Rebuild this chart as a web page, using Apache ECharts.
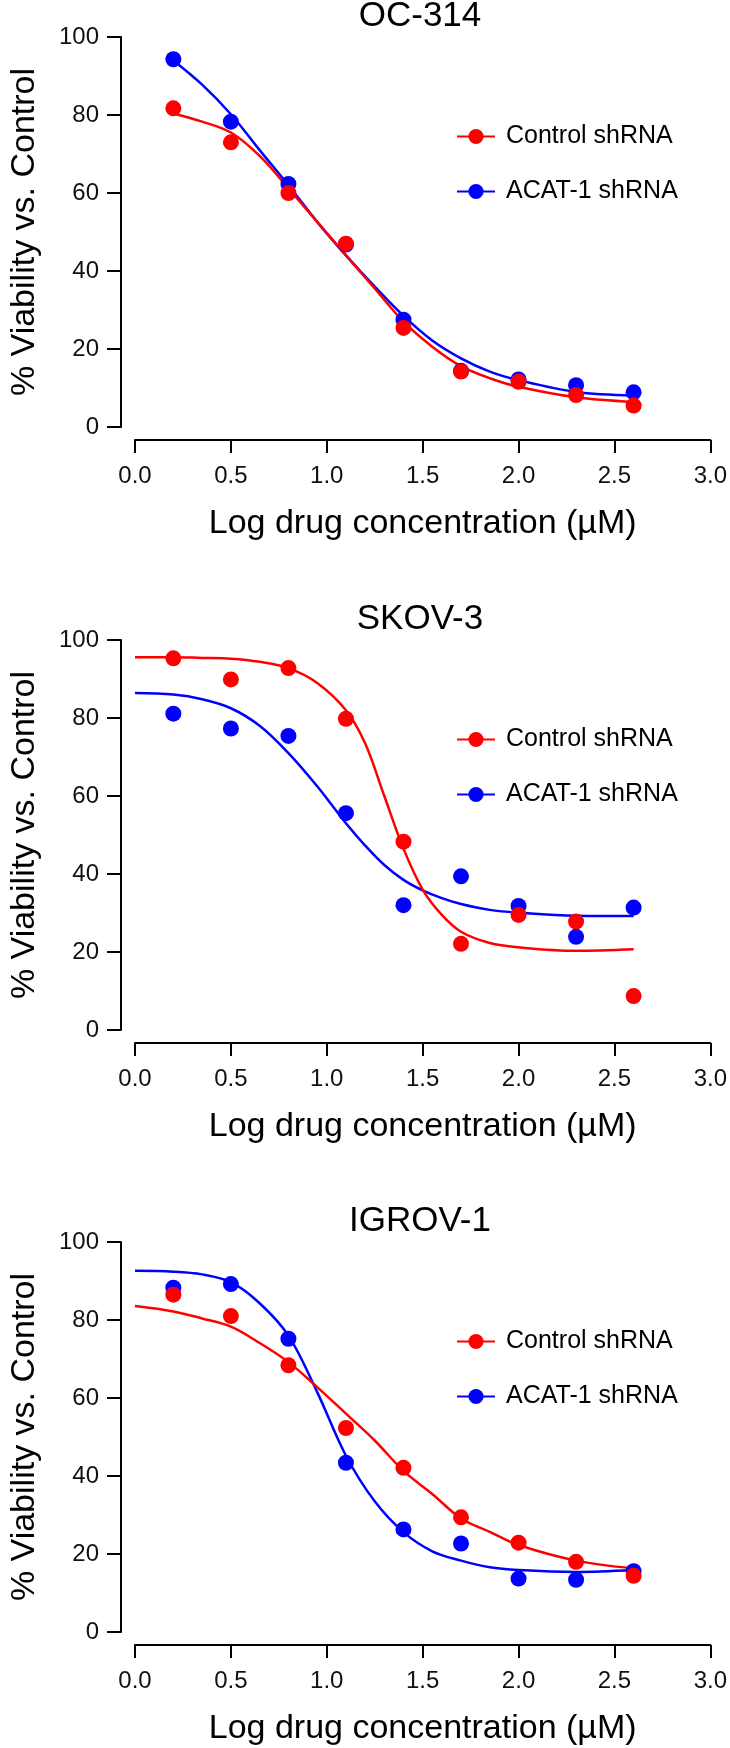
<!DOCTYPE html>
<html>
<head>
<meta charset="utf-8">
<script src="https://cdn.jsdelivr.net/npm/echarts@6/dist/echarts.min.js"></script>
<style>
html,body{margin:0;padding:0;background:#fff;}
#chart{width:730px;height:1748px;}
</style>
</head>
<body>
<div id="chart"></div>
<script>
// ---------- data ----------
const xTicks = [0.0, 0.5, 1.0, 1.5, 2.0, 2.5, 3.0];
const yTicks = [0, 20, 40, 60, 80, 100];
const panelTitles = ['OC-314', 'SKOV-3', 'IGROV-1'];
const seriesNames = ['Control shRNA', 'ACAT-1 shRNA'];
const xAxisTitle = 'Log drug concentration (µM)';
const yAxisTitle = '% Viability vs. Control';

// measured points (log dose)
const doseX = [0.2, 0.5, 0.8, 1.1, 1.4, 1.7, 2.0, 2.3, 2.6];

const oc314ControlPts = [81.7, 73.0, 60.0, 47.0, 25.4, 14.2, 11.6, 8.2, 5.5];
const oc314AcatPts    = [94.3, 78.3, 62.3, 46.8, 27.5, 14.4, 12.2, 10.7, 8.9];
const skov3ControlPts = [95.3, 89.9, 92.8, 79.8, 48.3, 22.1, 29.5, 27.8, 8.7];
const skov3AcatPts    = [81.1, 77.3, 75.4, 55.6, 32.0, 39.4, 31.8, 23.9, 31.4];
const igrov1ControlPts = [86.5, 81.0, 68.4, 52.3, 42.1, 29.4, 22.9, 18.0, 14.4];
const igrov1AcatPts    = [88.3, 89.2, 75.2, 43.4, 26.3, 22.7, 13.7, 13.4, 15.6];

// fitted curves
const oc314FitX       = [0.2, 0.35, 0.5, 0.65, 0.8, 0.95, 1.1, 1.25, 1.4, 1.55, 1.7, 1.85, 2.0, 2.3, 2.6];
const oc314ControlFit = [80.4, 78.3, 75.5, 69.5, 61.2, 52.6, 44.0, 35.5, 27.0, 20.6, 15.6, 12.5, 10.3, 7.6, 6.4];
const oc314AcatFit    = [94.0, 87.8, 80.2, 71.0, 62.0, 52.6, 44.0, 36.0, 28.5, 22.2, 17.6, 14.2, 12.0, 9.0, 8.1];

const skov3FitX       = [0.0, 0.2, 0.35, 0.5, 0.65, 0.8, 0.95, 1.1, 1.2, 1.3, 1.4, 1.5, 1.6, 1.7, 1.85, 2.0, 2.3, 2.6];
const skov3ControlFit = [95.6, 95.6, 95.4, 95.2, 94.4, 92.8, 89.0, 82.0, 73.5, 60.0, 46.5, 36.0, 29.5, 25.2, 22.3, 21.2, 20.3, 20.7];
const skov3AcatFit    = [86.4, 86.0, 84.8, 82.5, 78.0, 71.0, 62.5, 53.0, 47.3, 42.3, 38.5, 35.8, 33.8, 32.3, 30.8, 30.1, 29.3, 29.2];

const igrov1FitX       = [0.0, 0.2, 0.35, 0.5, 0.65, 0.8, 0.95, 1.1, 1.25, 1.4, 1.55, 1.7, 1.85, 2.0, 2.3, 2.6];
const igrov1ControlFit = [83.6, 82.2, 80.4, 78.3, 74.1, 69.2, 62.8, 56.0, 49.1, 41.3, 35.4, 29.1, 25.7, 22.3, 18.3, 16.3];
const igrov1AcatFit    = [92.6, 92.4, 91.7, 89.7, 84.3, 76.0, 61.5, 45.2, 33.5, 25.6, 20.7, 18.3, 16.6, 15.9, 15.4, 15.9];

// ---------- layout / style ----------
const RED = '#ff0000', BLUE = '#0000ff';
const FONT = '"Liberation Sans", Arial, Helvetica, sans-serif';
const gridTops = [37, 640, 1242];
const GRID_LEFT = 126, GRID_W = 586, GRID_H = 390;

const panels = [
  {fitX: oc314FitX, ctrlFit: oc314ControlFit, acatFit: oc314AcatFit, ctrlPts: oc314ControlPts, acatPts: oc314AcatPts},
  {fitX: skov3FitX, ctrlFit: skov3ControlFit, acatFit: skov3AcatFit, ctrlPts: skov3ControlPts, acatPts: skov3AcatPts},
  {fitX: igrov1FitX, ctrlFit: igrov1ControlFit, acatFit: igrov1AcatFit, ctrlPts: igrov1ControlPts, acatPts: igrov1AcatPts}
];

const zip = (xs, ys) => xs.map((x, i) => [x, ys[i]]);

const grid = [], xAxis = [], yAxis = [], title = [], legend = [], series = [];
panels.forEach((p, i) => {
  const top = gridTops[i];
  grid.push({left: GRID_LEFT, top: top, width: GRID_W, height: GRID_H});
  title.push({
    text: panelTitles[i], left: GRID_LEFT + GRID_W / 2 + 1, top: top - 21,
    textAlign: 'center', textVerticalAlign: 'middle', padding: 0,
    textStyle: {fontFamily: FONT, fontSize: 35, fontWeight: 'normal', color: '#000'}
  });
  legend.push({
    orient: 'vertical', left: 456, top: top + 87, padding: 0,
    itemWidth: 38, itemHeight: 19, itemGap: 30,
    data: seriesNames,
    textStyle: {fontFamily: FONT, fontSize: 25, color: '#000', padding: [0, 0, 0, 6]}
  });
  xAxis.push({
    type: 'value', gridIndex: i,
    min: xTicks[0], max: xTicks[xTicks.length - 1], interval: xTicks[1] - xTicks[0],
    offset: 13,
    axisLine: {show: true, onZero: false, lineStyle: {color: '#000', width: 2}},
    axisTick: {show: true, length: 13, lineStyle: {color: '#000', width: 2}},
    splitLine: {show: false},
    axisLabel: {fontFamily: FONT, fontSize: 24, color: '#111', margin: 24,
      formatter: v => v.toFixed(1), showMinLabel: true, showMaxLabel: true},
    name: xAxisTitle, nameLocation: 'middle', nameGap: 67,
    nameTextStyle: {fontFamily: FONT, fontSize: 34, color: '#000'}
  });
  yAxis.push({
    type: 'value', gridIndex: i,
    min: yTicks[0], max: yTicks[yTicks.length - 1], interval: yTicks[1] - yTicks[0],
    offset: 14,
    axisLine: {show: true, onZero: false, lineStyle: {color: '#000', width: 2}},
    axisTick: {show: true, length: 14, lineStyle: {color: '#000', width: 2}},
    splitLine: {show: false},
    axisLabel: {fontFamily: FONT, fontSize: 24, color: '#111', margin: 22},
    name: yAxisTitle, nameLocation: 'middle', nameGap: 79,
    nameTextStyle: {fontFamily: FONT, fontSize: 34, color: '#000'}
  });
  // fitted curves
  series.push({
    type: 'line', name: seriesNames[1], xAxisIndex: i, yAxisIndex: i,
    data: zip(p.fitX, p.acatFit), smooth: 0.35,
    showSymbol: false, symbol: 'circle', symbolSize: 16,
    lineStyle: {color: BLUE, width: 2.5}, itemStyle: {color: BLUE}, z: 2
  });
  series.push({
    type: 'line', name: seriesNames[0], xAxisIndex: i, yAxisIndex: i,
    data: zip(p.fitX, p.ctrlFit), smooth: 0.35,
    showSymbol: false, symbol: 'circle', symbolSize: 16,
    lineStyle: {color: RED, width: 2.5}, itemStyle: {color: RED}, z: 3
  });
  // measured points
  series.push({
    type: 'scatter', name: seriesNames[1], xAxisIndex: i, yAxisIndex: i,
    data: zip(doseX, p.acatPts), symbol: 'circle', symbolSize: 16,
    itemStyle: {color: BLUE, opacity: 1}, z: 4
  });
  series.push({
    type: 'scatter', name: seriesNames[0], xAxisIndex: i, yAxisIndex: i,
    data: zip(doseX, p.ctrlPts), symbol: 'circle', symbolSize: 16,
    itemStyle: {color: RED, opacity: 1}, z: 5
  });
});

const chart = echarts.init(document.getElementById('chart'), null, {renderer: 'canvas'});
chart.setOption({
  animation: false,
  backgroundColor: '#ffffff',
  textStyle: {fontFamily: FONT},
  title, legend, grid, xAxis, yAxis, series
});
</script>
</body>
</html>
